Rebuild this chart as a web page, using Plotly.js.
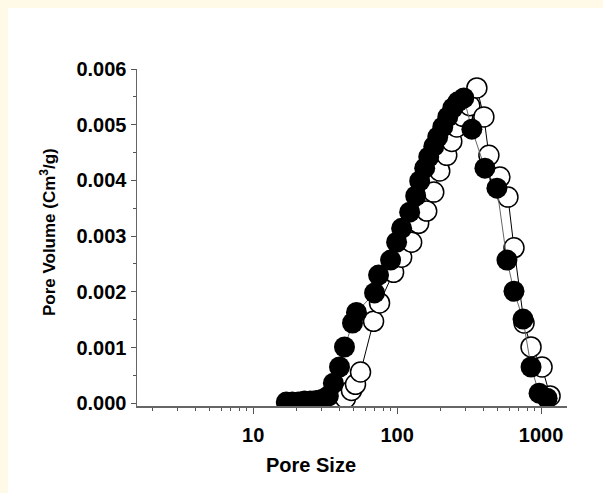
<!DOCTYPE html>
<html>
<head>
<meta charset="utf-8">
<script src="https://cdn.plot.ly/plotly-3.0.1.min.js"></script>
<style>
  html, body { margin: 0; padding: 0; background: #fffae8; width: 603px; height: 493px; overflow: hidden; }
  #chart { position: absolute; left: 8px; top: 8px; width: 595px; height: 485px; background: #ffffff; }
</style>
</head>
<body>
<div id="chart"></div>
<script>
// Open circles series
const openSize = [19.9, 23.0, 26.6, 30.7, 35.0, 39.1, 43.8, 48.2, 51.4, 55.7, 68.6, 75.5, 94.5, 107.5, 126.2, 141.2, 160.6, 179.7, 197.8, 221.3, 239.8, 259.8, 286.1, 320.1, 358.1, 400.6, 434.2, 517.9, 588.8, 648.5, 761.5, 851.8, 1016, 1155];
const openVolume = [0, 0, 0, 0, 0, 0.00002, 0.00009, 0.00023, 0.00034, 0.00056, 0.00147, 0.00180, 0.00235, 0.00262, 0.00289, 0.00323, 0.00345, 0.00379, 0.00417, 0.00445, 0.00470, 0.00496, 0.00515, 0.00534, 0.00566, 0.00514, 0.00445, 0.00406, 0.00370, 0.00279, 0.00144, 0.00101, 0.00065, 0.00013];

// Filled circles series
const filledSize = [17.0, 18.7, 20.6, 22.7, 25.0, 27.5, 30.3, 33.3, 36.1, 39.8, 43.1, 49.0, 52.2, 69.7, 74.3, 90.1, 99.2, 107.5, 122.2, 134.6, 143.5, 155.5, 165.8, 179.7, 191.5, 207.6, 224.9, 243.7, 264.0, 290.7, 330.5, 407.2, 493.5, 579.5, 648.5, 749.3, 851.8, 968.5, 1101];
const filledVolume = [0.00002, 0.00002, 0.00002, 0.00004, 0.00004, 0.00005, 0.00007, 0.00013, 0.00036, 0.00065, 0.00101, 0.00144, 0.00163, 0.00198, 0.00230, 0.00257, 0.00289, 0.00314, 0.00343, 0.00372, 0.00399, 0.00422, 0.00442, 0.00461, 0.00478, 0.00496, 0.00514, 0.00530, 0.00541, 0.00548, 0.00492, 0.00422, 0.00386, 0.00257, 0.00201, 0.00151, 0.00065, 0.00018, 0.00009];

const xMajorTicks = [10, 100, 1000];
const xTickLabels = ['10', '100', '1000'];
const xMinorTicks = [2,3,4,5,6,7,8,9,20,30,40,50,60,70,80,90,200,300,400,500,600,700,800,900];

const xTitle = 'Pore Size';
const yTitle = 'Pore Volume (Cm<sup>3</sup>/g)';

const font = 'Liberation Sans, Arial, sans-serif';

const traces = [
  {
    x: openSize, y: openVolume, type: 'scatter', mode: 'lines+markers',
    line: { color: '#000000', width: 1 },
    marker: { symbol: 'circle', size: 20, color: '#ffffff', line: { color: '#000000', width: 1.5 } },
    showlegend: false, hoverinfo: 'skip'
  },
  {
    x: filledSize, y: filledVolume, type: 'scatter', mode: 'lines+markers',
    line: { color: '#666666', width: 1 },
    marker: { symbol: 'circle', size: 21, color: '#000000', line: { color: '#000000', width: 0 } },
    showlegend: false, hoverinfo: 'skip'
  }
];

const layout = {
  width: 595, height: 485,
  margin: { l: 129, r: 36, t: 61, b: 87 },
  paper_bgcolor: '#ffffff', plot_bgcolor: '#ffffff',
  font: { family: font, color: '#000000' },
  xaxis: {
    type: 'log', range: [Math.log10(1.56), Math.log10(1514)],
    tickmode: 'array', tickvals: xMajorTicks, ticktext: xTickLabels,
    ticks: 'outside', ticklen: 6, tickwidth: 1, tickcolor: '#555555',
    minor: { tickmode: 'array', tickvals: xMinorTicks, ticks: 'outside', ticklen: 3, tickwidth: 1, tickcolor: '#555555' },
    showline: true, linecolor: '#666666', linewidth: 1.5,
    showgrid: false, zeroline: false, mirror: false,
    ticklabelstandoff: 4,
    tickfont: { family: font, size: 20, color: '#000000', weight: 'bold' }
  },
  yaxis: {
    range: [-0.00005, 0.006],
    tickmode: 'linear', tick0: 0, dtick: 0.001, tickformat: '.3f',
    ticks: 'outside', ticklen: 5, tickwidth: 1, tickcolor: '#555555',
    minor: { tick0: 0, dtick: 0.0005, ticks: 'outside', ticklen: 3, tickwidth: 1, tickcolor: '#555555' },
    showline: true, linecolor: '#666666', linewidth: 1.5,
    showgrid: false, zeroline: false, mirror: false,
    tickfont: { family: font, size: 20, color: '#000000', weight: 'bold' }
  },
  annotations: [
    { text: '<b>' + xTitle + '</b>', xref: 'paper', yref: 'paper', x: 0.405, y: -0.175,
      xanchor: 'center', yanchor: 'middle', showarrow: false,
      font: { family: font, size: 20, color: '#000000' } },
    { text: '<b>' + yTitle + '</b>', xref: 'paper', yref: 'paper', x: -0.207, y: 0.516,
      xanchor: 'center', yanchor: 'middle', showarrow: false, textangle: -90,
      font: { family: font, size: 17, color: '#000000' } }
  ]
};

Plotly.newPlot('chart', traces, layout, { staticPlot: true, displayModeBar: false });
</script>
</body>
</html>
